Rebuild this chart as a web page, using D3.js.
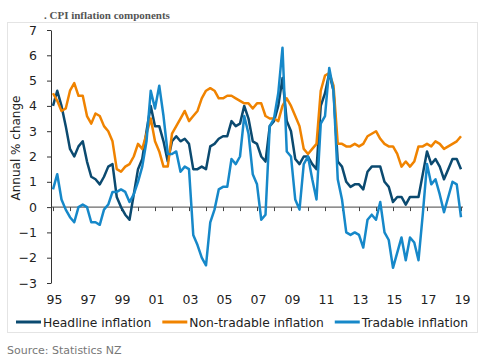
<!DOCTYPE html>
<html>
<head>
<meta charset="utf-8">
<script src="https://cdn.jsdelivr.net/npm/d3@7"></script>
<style>
  body { margin: 0; background: #fff; }
  svg { display: block; }
</style>
</head>
<body>
<div id="root"></div>
<script>
// Quarterly annual % change, 1995 Q1 .. 2019 Q1
const headline = [
  4.0, 4.6, 4.0, 3.2, 2.3, 2.0, 2.4, 2.6, 1.8, 1.2,
  1.1, 0.9, 1.2, 1.6, 1.7, 0.4, 0.0, -0.3, -0.5, 0.5,
  1.5, 1.9, 3.0, 4.0, 3.2, 3.2, 2.6, 1.8, 2.6, 2.8,
  2.6, 2.7, 2.5, 1.5, 1.5, 1.6, 1.5, 2.4, 2.5, 2.7,
  2.8, 2.8, 3.4, 3.2, 3.3, 4.0, 3.5, 2.6, 2.5, 2.0,
  1.8, 3.2, 3.4, 4.0, 5.1, 3.4, 3.0, 1.9, 1.7, 2.0,
  2.0, 1.7, 1.5, 4.0, 4.5, 5.3, 4.6, 1.8, 1.6, 1.0,
  0.8, 0.9, 0.9, 0.7, 1.4, 1.6, 1.6, 1.6, 1.0, 0.8,
  0.2, 0.4, 0.4, 0.1, 0.4, 0.4, 0.4, 1.3, 2.2, 1.7,
  1.9, 1.6, 1.1, 1.5, 1.9, 1.9, 1.5
];

const nonTradable = [
  4.5, 4.2, 3.8, 3.9, 4.6, 4.9, 4.4, 4.4, 3.6, 3.3,
  3.7, 3.6, 3.2, 3.0, 2.6, 1.5, 1.4, 1.6, 1.7, 2.0,
  2.5, 2.3, 2.9, 3.5, 2.6, 2.2, 1.6, 1.6, 2.9, 3.2,
  3.5, 3.8, 3.4, 3.6, 3.8, 4.3, 4.6, 4.7, 4.6, 4.3,
  4.3, 4.4, 4.4, 4.3, 4.2, 4.1, 4.1, 3.9, 4.1, 4.1,
  3.6, 3.5, 3.5, 3.4, 4.0, 4.3, 4.0, 3.6, 3.2, 2.3,
  2.1, 2.3, 2.5, 4.6, 5.2, 5.3, 4.8, 2.5, 2.5, 2.4,
  2.4, 2.5, 2.4, 2.5, 2.8, 2.9, 3.0, 2.7, 2.5, 2.4,
  2.4, 2.1, 1.6, 1.8, 1.6, 1.8, 2.4, 2.4, 2.5, 2.4,
  2.6, 2.5, 2.3, 2.4, 2.5, 2.6, 2.8
];

const tradable = [
  0.7, 1.3, 0.3, -0.1, -0.4, -0.6, 0.0, 0.1, 0.0, -0.6,
  -0.6, -0.7, -0.1, 0.1, 0.6, 0.6, 0.7, 0.6, 0.2, 0.5,
  1.0, 1.6, 2.6, 4.6, 3.9, 4.8, 3.6, 2.1, 2.1, 2.2,
  1.4, 1.6, 1.5, -1.1, -1.5, -2.0, -2.3, -0.6, -0.1, 0.7,
  0.8, 0.8, 1.9, 1.7, 2.0, 3.6, 2.9, 1.3, 0.9, -0.5,
  -0.3, 3.2, 3.5, 4.5, 6.3, 2.2, 2.0, 0.3, -0.1, 1.7,
  2.0, 1.1, 0.3, 3.3, 3.6, 5.5, 4.6, 1.1, 0.3, -1.0,
  -1.1, -1.0, -1.1, -1.6, -0.5, -0.3, -0.5, 0.2, -1.0, -1.3,
  -2.4, -1.8, -1.2, -2.1, -1.2, -1.4, -2.1, -0.3, 1.7, 0.9,
  1.1, 0.5, -0.2, 0.4, 1.0, 0.9, -0.4
];

const yearLabels = ["95", "97", "99", "01", "03", "05", "07", "09", "11", "13", "15", "17", "19"];
const yTicks = [-3, -2, -1, 0, 1, 2, 3, 4, 5, 6, 7];
const seriesNames = ["Headline inflation", "Non-tradable inflation", "Tradable inflation"];
const seriesColors = ["#0b4a70", "#f08300", "#1688c9"];

const width = 479;
const height = 363;
const font = "'DejaVu Sans', Verdana, sans-serif";

const svg = d3.select("#root")
  .append("svg")
  .attr("width", width)
  .attr("height", height);

// light frame round the chart
svg.append("rect")
  .attr("x", 7.5).attr("y", 22.5)
  .attr("width", 470).attr("height", 310)
  .attr("fill", "none")
  .attr("stroke", "#e4e4e4");

svg.append("text")
  .attr("x", 44).attr("y", 19)
  .attr("font-family", "'Liberation Serif', 'Times New Roman', serif")
  .attr("font-weight", "bold")
  .attr("font-size", 11)
  .attr("fill", "#555")
  .text(". CPI inflation components");

// scales: x runs over quarter index
const x = d3.scaleLinear().domain([0, headline.length - 1]).range([53, 461]);
const y = d3.scaleLinear().domain([-3, 7]).range([283, 30]);

// y axis
const yAxis = svg.append("g")
  .attr("transform", "translate(51,0)")
  .call(d3.axisLeft(y).tickValues(yTicks).tickSize(4).tickSizeOuter(0).tickPadding(10).tickFormat(d3.format("d")));
yAxis.selectAll("path, line").attr("stroke", "#333");
yAxis.selectAll("text").attr("font-family", font).attr("font-size", 12.5).attr("fill", "#222");

// zero line with yearly ticks
const xAxis = svg.append("g")
  .attr("transform", "translate(0," + y(0) + ")")
  .call(d3.axisBottom(x).tickValues(d3.range(0, headline.length, 4)).tickSize(4).tickSizeOuter(0).tickFormat(""));
xAxis.select(".domain").remove();
xAxis.selectAll("line").attr("stroke", "#444");
xAxis.append("line")
  .attr("x1", 51).attr("x2", 463)
  .attr("stroke", "#444");

// year labels along the bottom
svg.append("g")
  .selectAll("text")
  .data(yearLabels)
  .enter()
  .append("text")
  .attr("x", (d, i) => x(i * 8) + 1.5)
  .attr("y", 303.5)
  .attr("text-anchor", "middle")
  .attr("font-family", font)
  .attr("font-size", 12.5)
  .attr("fill", "#222")
  .text(d => d);

svg.append("text")
  .attr("transform", "translate(20,148) rotate(-90)")
  .attr("text-anchor", "middle")
  .attr("font-family", font)
  .attr("font-size", 12)
  .attr("fill", "#222")
  .text("Annual % change");

// lines
const line = d3.line()
  .x((d, i) => x(i))
  .y(d => y(d));

[headline, nonTradable, tradable].forEach((data, k) => {
  svg.append("path")
    .datum(data)
    .attr("fill", "none")
    .attr("stroke", seriesColors[k])
    .attr("stroke-width", 2.5)
    .attr("stroke-linejoin", "round")
    .attr("d", line);
});

// legend
let lx = 16;
seriesNames.forEach((name, k) => {
  svg.append("line")
    .attr("x1", lx).attr("x2", lx + 25)
    .attr("y1", 322).attr("y2", 322)
    .attr("stroke", seriesColors[k])
    .attr("stroke-width", 3);
  const t = svg.append("text")
    .attr("x", lx + 27)
    .attr("y", 326.5)
    .attr("font-family", font)
    .attr("font-size", 12.3)
    .attr("fill", "#222")
    .text(name);
  lx += 27 + t.node().getComputedTextLength() + 11;
});

svg.append("text")
  .attr("x", 7).attr("y", 354)
  .attr("font-family", font)
  .attr("font-size", 11)
  .attr("fill", "#777")
  .text("Source: Statistics NZ");
</script>
</body>
</html>
